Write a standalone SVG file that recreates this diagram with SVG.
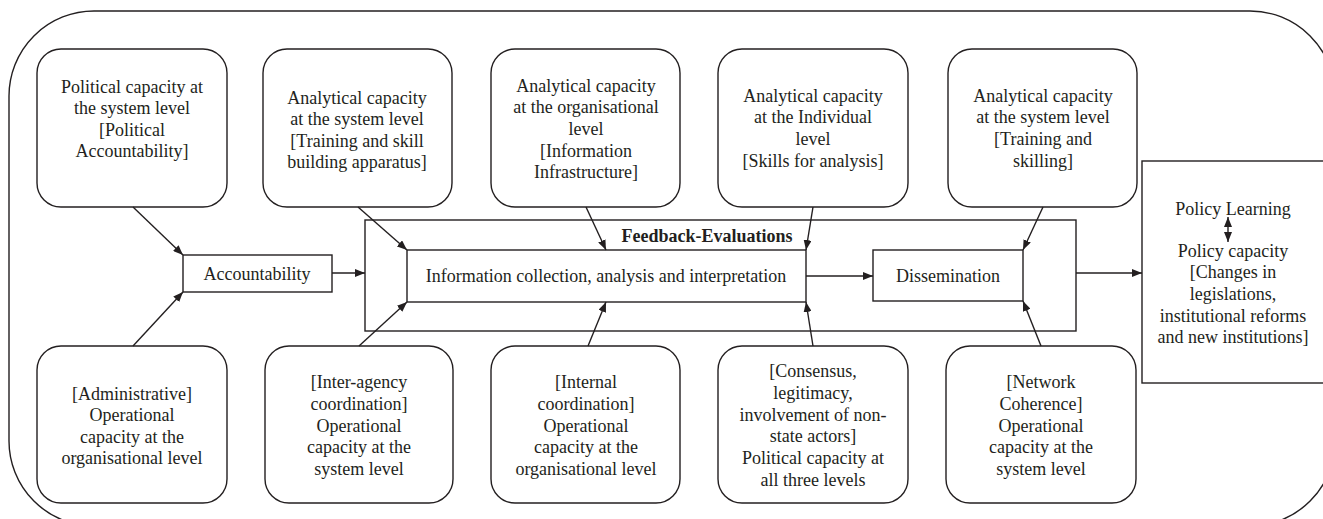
<svg xmlns="http://www.w3.org/2000/svg" width="1323" height="519" viewBox="0 0 1323 519">
  <style>
    .frame { fill: none; stroke: #231f20; stroke-width: 1.4; }
    .node { fill: #ffffff; stroke: #231f20; stroke-width: 1.4; }
    .box { fill: #ffffff; stroke: #231f20; stroke-width: 1.4; }
    .lbl { font-family: "Liberation Serif", "Times New Roman", serif; font-size: 18px; fill: #231f20; text-anchor: middle; }
    .bold { font-weight: bold; }
    .conn { fill: none; stroke: #231f20; stroke-width: 1.4; marker-end: url(#arrow); }
  </style>
  <defs>
    <marker id="arrow" markerUnits="userSpaceOnUse" markerWidth="10" markerHeight="8" refX="10" refY="4" orient="auto-start-reverse">
      <path d="M0,0 L10,4 L0,8 z" fill="#231f20"/>
    </marker>
  </defs>

  <rect width="1323" height="519" fill="#ffffff"/>

  <!-- outer rounded frame -->
  <rect class="frame" x="9" y="11" width="1326" height="515" rx="85" ry="85"/>

  <!-- central process: feedback-evaluation loop -->
  <g id="feedback">
    <rect class="box" x="365" y="220" width="711" height="111"/>
    <text class="lbl bold" x="707" y="242">Feedback-Evaluations</text>
  </g>
  <g id="information">
    <rect class="box" x="407" y="250" width="399" height="52"/>
    <text class="lbl" x="606" y="282">Information collection, analysis and interpretation</text>
  </g>
  <g id="dissemination">
    <rect class="box" x="873" y="250" width="150" height="51"/>
    <text class="lbl" x="948" y="282">Dissemination</text>
  </g>
  <g id="accountability">
    <rect class="box" x="183" y="255" width="149" height="37"/>
    <text class="lbl" x="257" y="280">Accountability</text>
  </g>
  <g id="outcome">
    <rect class="box" x="1142" y="161" width="184" height="222"/>
    <text class="lbl" x="1233" y="215">Policy Learning</text>
    <text class="lbl" x="1233" y="257">Policy capacity</text>
    <text class="lbl" x="1233" y="278">[Changes in</text>
    <text class="lbl" x="1233" y="300">legislations,</text>
    <text class="lbl" x="1233" y="322">institutional reforms</text>
    <text class="lbl" x="1233" y="343">and new institutions]</text>
  </g>

  <!-- upper capacity nodes -->
  <g id="top-political-system">
    <rect class="node" x="37" y="49" width="190" height="158" rx="24"/>
    <text class="lbl" x="132" y="93">Political capacity at</text>
    <text class="lbl" x="132" y="114">the system level</text>
    <text class="lbl" x="132" y="136">[Political</text>
    <text class="lbl" x="132" y="157">Accountability]</text>
  </g>
  <g id="top-analytical-system-training">
    <rect class="node" x="263" y="49" width="189" height="158" rx="24"/>
    <text class="lbl" x="357" y="104">Analytical capacity</text>
    <text class="lbl" x="357" y="125">at the system level</text>
    <text class="lbl" x="357" y="147">[Training and skill</text>
    <text class="lbl" x="357" y="168">building apparatus]</text>
  </g>
  <g id="top-analytical-organisational">
    <rect class="node" x="491" y="49" width="189" height="158" rx="24"/>
    <text class="lbl" x="586" y="92">Analytical capacity</text>
    <text class="lbl" x="586" y="113">at the organisational</text>
    <text class="lbl" x="586" y="135">level</text>
    <text class="lbl" x="586" y="157">[Information</text>
    <text class="lbl" x="586" y="178">Infrastructure]</text>
  </g>
  <g id="top-analytical-individual">
    <rect class="node" x="718" y="49" width="190" height="158" rx="24"/>
    <text class="lbl" x="813" y="102">Analytical capacity</text>
    <text class="lbl" x="813" y="123">at the Individual</text>
    <text class="lbl" x="813" y="145">level</text>
    <text class="lbl" x="813" y="167">[Skills for analysis]</text>
  </g>
  <g id="top-analytical-system-skilling">
    <rect class="node" x="948" y="49" width="189" height="158" rx="24"/>
    <text class="lbl" x="1043" y="102">Analytical capacity</text>
    <text class="lbl" x="1043" y="123">at the system level</text>
    <text class="lbl" x="1043" y="145">[Training and</text>
    <text class="lbl" x="1043" y="167">skilling]</text>
  </g>

  <!-- lower capacity nodes -->
  <g id="bottom-administrative">
    <rect class="node" x="37" y="346" width="190" height="157" rx="24"/>
    <text class="lbl" x="132" y="400">[Administrative]</text>
    <text class="lbl" x="132" y="421">Operational</text>
    <text class="lbl" x="132" y="443">capacity at the</text>
    <text class="lbl" x="132" y="464">organisational level</text>
  </g>
  <g id="bottom-inter-agency">
    <rect class="node" x="265" y="346" width="188" height="157" rx="24"/>
    <text class="lbl" x="359" y="388">[Inter-agency</text>
    <text class="lbl" x="359" y="410">coordination]</text>
    <text class="lbl" x="359" y="432">Operational</text>
    <text class="lbl" x="359" y="453">capacity at the</text>
    <text class="lbl" x="359" y="475">system level</text>
  </g>
  <g id="bottom-internal">
    <rect class="node" x="491" y="346" width="189" height="157" rx="24"/>
    <text class="lbl" x="586" y="388">[Internal</text>
    <text class="lbl" x="586" y="410">coordination]</text>
    <text class="lbl" x="586" y="432">Operational</text>
    <text class="lbl" x="586" y="453">capacity at the</text>
    <text class="lbl" x="586" y="475">organisational level</text>
  </g>
  <g id="bottom-consensus">
    <rect class="node" x="718" y="346" width="190" height="157" rx="24"/>
    <text class="lbl" x="813" y="377">[Consensus,</text>
    <text class="lbl" x="813" y="399">legitimacy,</text>
    <text class="lbl" x="813" y="421">involvement of non-</text>
    <text class="lbl" x="813" y="442">state actors]</text>
    <text class="lbl" x="813" y="464">Political capacity at</text>
    <text class="lbl" x="813" y="486">all three levels</text>
  </g>
  <g id="bottom-network">
    <rect class="node" x="946" y="346" width="190" height="157" rx="24"/>
    <text class="lbl" x="1041" y="388">[Network</text>
    <text class="lbl" x="1041" y="410">Coherence]</text>
    <text class="lbl" x="1041" y="432">Operational</text>
    <text class="lbl" x="1041" y="453">capacity at the</text>
    <text class="lbl" x="1041" y="475">system level</text>
  </g>

  <!-- connectors -->
  <g id="connectors">
    <line class="conn" x1="133" y1="207" x2="183" y2="255"/>
    <line class="conn" x1="133" y1="346" x2="183" y2="292"/>
    <line class="conn" x1="332" y1="273" x2="365" y2="273"/>
    <line class="conn" x1="358" y1="207" x2="407" y2="250"/>
    <line class="conn" x1="359" y1="346" x2="407" y2="302"/>
    <line class="conn" x1="586" y1="207" x2="606" y2="250"/>
    <line class="conn" x1="588" y1="346" x2="606" y2="302"/>
    <line class="conn" x1="813" y1="207" x2="806" y2="250"/>
    <line class="conn" x1="813" y1="346" x2="806" y2="302"/>
    <line class="conn" x1="806" y1="276" x2="873" y2="276"/>
    <line class="conn" x1="1043" y1="207" x2="1023" y2="250"/>
    <line class="conn" x1="1041" y1="346" x2="1023" y2="301"/>
    <line class="conn" x1="1076" y1="273" x2="1142" y2="273"/>
    <line class="conn" x1="1228" y1="217" x2="1228" y2="242" style="marker-start: url(#arrow)"/>
  </g>
</svg>
